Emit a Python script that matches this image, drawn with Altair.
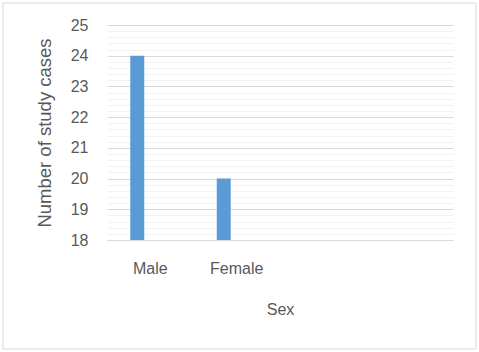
import altair as alt
import pandas as pd

categories = ["Male", "Female", "", " "]
values = [24, 20, None, None]
y_ticks = [round(18 + 0.2 * i, 1) for i in range(36)]

df = pd.DataFrame({"sex": categories, "cases": values}).dropna()

W, H = 346, 215
PL, PT = 107, 25
FONT = "Liberation Sans"
TXT = "#595959"
IS_MAJOR = "abs(datum.value - round(datum.value)) < 0.01"

border = alt.Chart(pd.DataFrame({"a": [0]})).mark_rect(
    filled=False, stroke="#d9d9d9", strokeWidth=1
).encode(
    x=alt.value(3 - PL), x2=alt.value(476 - PL),
    y=alt.value(3 - PT), y2=alt.value(349 - PT),
)

bars = alt.Chart(df).mark_bar(size=14, xOffset=-13, color="#5b9bd5", clip=True).encode(
    x=alt.X("sex:N", scale=alt.Scale(domain=categories, paddingInner=0, paddingOuter=0),
            sort=categories,
            axis=alt.Axis(title="Sex", labelAngle=0, tickSize=0, domainColor="#d9d9d9",
                          labelPadding=20, titlePadding=25, labelFontSize=16,
                          titleFontSize=16, labelColor=TXT, titleColor=TXT,
                          titleFontWeight="normal", labelFont=FONT, titleFont=FONT)),
    y=alt.Y("cases:Q", scale=alt.Scale(domain=[18, 25], nice=False, zero=False),
            axis=alt.Axis(title="Number of study cases", values=y_ticks, tickSize=0,
                          domain=False, labelPadding=19, titlePadding=16,
                          labelFontSize=16, titleFontSize=18.5,
                          labelColor=TXT, titleColor=TXT,
                          titleFontWeight="normal", labelFont=FONT, titleFont=FONT,
                          labelExpr=f"{IS_MAJOR} ? format(datum.value, 'd') : ''",
                          gridColor={"condition": {"test": IS_MAJOR, "value": "#d9d9d9"}, "value": "#f2f2f2"})),
)

chart = alt.layer(border, bars).properties(
    width=W, height=H,
    autosize=alt.AutoSizeParams(type="none"),
    padding={"left": PL, "top": PT, "right": 479 - PL - W, "bottom": 352 - PT - H},
).configure_view(stroke=None)

chart.save("out.html", embed_options={"renderer": "svg", "actions": False})
